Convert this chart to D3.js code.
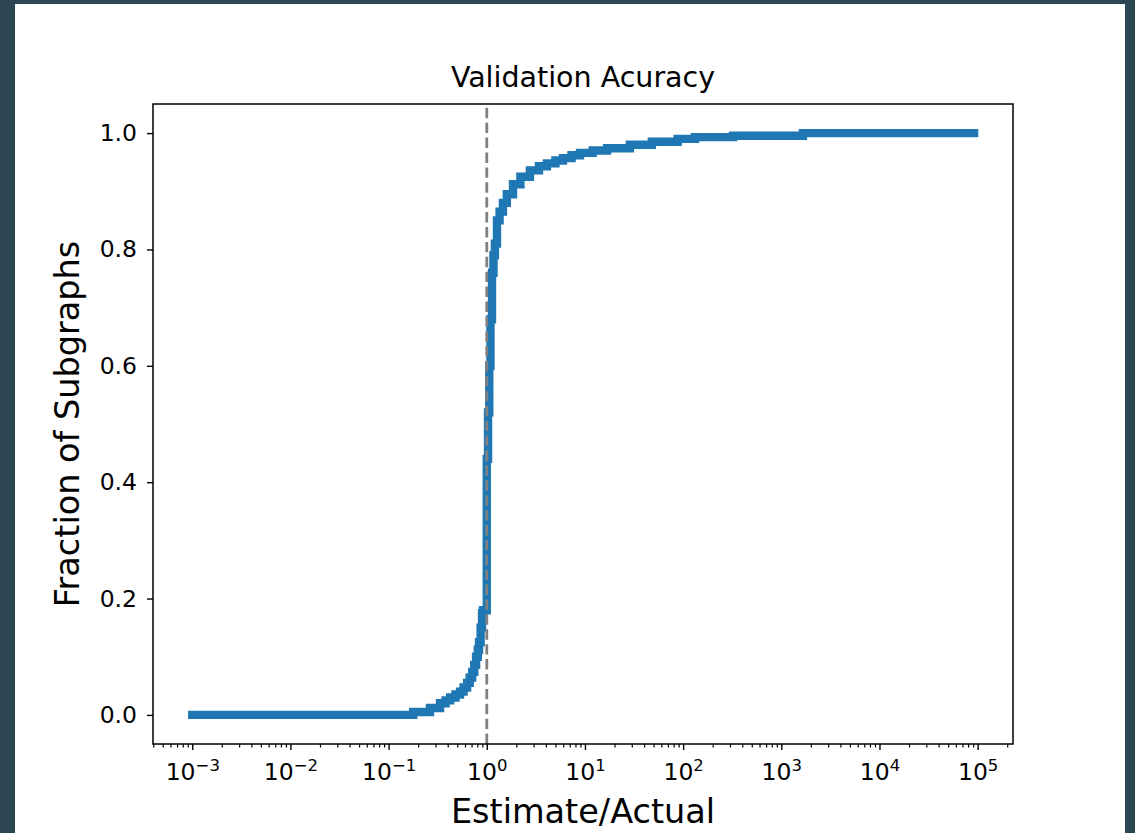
<!DOCTYPE html>
<html>
<head>
<meta charset="utf-8">
<script src="https://cdn.jsdelivr.net/npm/d3@7"></script>
<style>
  html, body { margin: 0; padding: 0; background: #2d4853; }
  svg { display: block; }
  text { font-family: "DejaVu Sans", sans-serif; fill: #000; }
</style>
</head>
<body>
<div id="chart"></div>
<script>
// CDF of estimate/actual ratio
const ratios = [0.001, 0.178, 0.264, 0.334, 0.38, 0.423, 0.48, 0.534, 0.58, 0.63, 0.67, 0.71, 0.745, 0.778,
  0.81, 0.834, 0.865, 0.895, 0.916,
  1.0, 1.03, 1.06, 1.09, 1.13, 1.17, 1.21, 1.27, 1.35, 1.46, 1.6, 1.85, 2.2, 2.75, 3.4, 4.1, 5.0, 5.97,
  7.3, 8.9, 12, 16.8, 28.7, 48, 88, 132, 323, 1660, 92000];
const fractions = [0, 0.005, 0.012, 0.02, 0.025, 0.03, 0.035, 0.04, 0.047, 0.055, 0.064, 0.074, 0.086, 0.10,
  0.112, 0.125, 0.15, 0.175, 0.18,
  0.44, 0.52, 0.60, 0.68, 0.76, 0.79, 0.81, 0.85, 0.865, 0.88, 0.895, 0.912, 0.925, 0.936, 0.943, 0.948, 0.953, 0.957,
  0.962, 0.966, 0.970, 0.974, 0.980, 0.985, 0.990, 0.993, 0.9955, 1.0, 1.0];

const yTicks = [0, 0.2, 0.4, 0.6, 0.8, 1.0];
const xDecades = [-3, -2, -1, 0, 1, 2, 3, 4, 5];
const refRatio = 1;

const width = 1135, height = 833;
const plot = { left: 153, top: 104, w: 860, h: 640 };

const svg = d3.select("#chart").append("svg")
  .attr("width", width)
  .attr("height", height);

// white page area
svg.append("rect")
  .attr("x", 15).attr("y", 4)
  .attr("width", 1110).attr("height", height - 4)
  .attr("fill", "#fff");

const x = d3.scaleLog()
  .domain([Math.pow(10, -3.4), Math.pow(10, 5.36)])
  .range([0, plot.w]);
const y = d3.scaleLinear()
  .domain([-0.05, 1.05])
  .range([plot.h, 0]);

const g = svg.append("g")
  .attr("transform", `translate(${plot.left},${plot.top})`);

// data line
const pts = ratios.map((r, i) => [r, fractions[i]]);
g.append("path")
  .datum(pts)
  .attr("fill", "none")
  .attr("stroke", "#1f77b4")
  .attr("stroke-width", 8.4)
  .attr("stroke-linecap", "square")
  .attr("d", d3.line()
    .x(d => x(d[0]))
    .y(d => y(d[1]))
    .curve(d3.curveStepAfter));

// reference line at 1.0
g.append("line")
  .attr("x1", x(refRatio)).attr("x2", x(refRatio))
  .attr("y1", plot.h).attr("y2", 0)
  .attr("stroke", "#808080")
  .attr("stroke-width", 2.8)
  .attr("stroke-dasharray", "10.4,4.5");

// minor ticks on x
const minor = [];
for (let e = -4; e <= 5; e++) {
  for (let m = 2; m <= 9; m++) {
    const v = m * Math.pow(10, e);
    if (v >= x.domain()[0] && v <= x.domain()[1]) minor.push(v);
  }
}
g.append("g")
  .attr("transform", `translate(0,${plot.h})`)
  .call(d3.axisBottom(x).tickValues(minor).tickSize(3.5).tickFormat(""))
  .call(a => a.select(".domain").remove())
  .call(a => a.selectAll("line").attr("stroke", "#000").attr("stroke-width", 1.2));

// major ticks on x with 10^n labels
const xAxis = g.append("g")
  .attr("transform", `translate(0,${plot.h})`)
  .call(d3.axisBottom(x).tickValues(xDecades.map(e => Math.pow(10, e))).tickSize(6).tickFormat(""));
xAxis.select(".domain").remove();
xAxis.selectAll("line").attr("stroke", "#000").attr("stroke-width", 1.4);
xAxis.selectAll(".tick text")
  .attr("y", 36).attr("dy", 0)
  .style("font-size", "23.5px")
  .each(function(d) {
    const e = Math.round(Math.log10(d));
    const t = d3.select(this);
    t.append("tspan").text("10");
    t.append("tspan")
      .attr("dy", "-0.55em")
      .style("font-size", "16.5px")
      .text(e < 0 ? "\u2212" + Math.abs(e) : String(e));
  });

// y axis
const yAxis = g.append("g")
  .call(d3.axisLeft(y).tickValues(yTicks).tickSize(6).tickPadding(10).tickFormat(d3.format(".1f")));
yAxis.select(".domain").remove();
yAxis.selectAll("line").attr("stroke", "#000").attr("stroke-width", 1.4);
yAxis.selectAll("text").style("font-size", "23.5px").attr("fill", "#000");

// frame
g.append("rect")
  .attr("width", plot.w).attr("height", plot.h)
  .attr("fill", "none")
  .attr("stroke", "#000")
  .attr("stroke-width", 1.5);

// title and axis labels
svg.append("text")
  .attr("x", plot.left + plot.w / 2).attr("y", 87)
  .attr("text-anchor", "middle")
  .style("font-size", "28.5px")
  .text("Validation Acuracy");

svg.append("text")
  .attr("x", plot.left + plot.w / 2).attr("y", 823)
  .attr("text-anchor", "middle")
  .style("font-size", "33.5px")
  .text("Estimate/Actual");

svg.append("text")
  .attr("transform", `translate(79,${plot.top + plot.h / 2}) rotate(-90)`)
  .attr("text-anchor", "middle")
  .style("font-size", "33.5px")
  .text("Fraction of Subgraphs");
</script>
</body>
</html>
